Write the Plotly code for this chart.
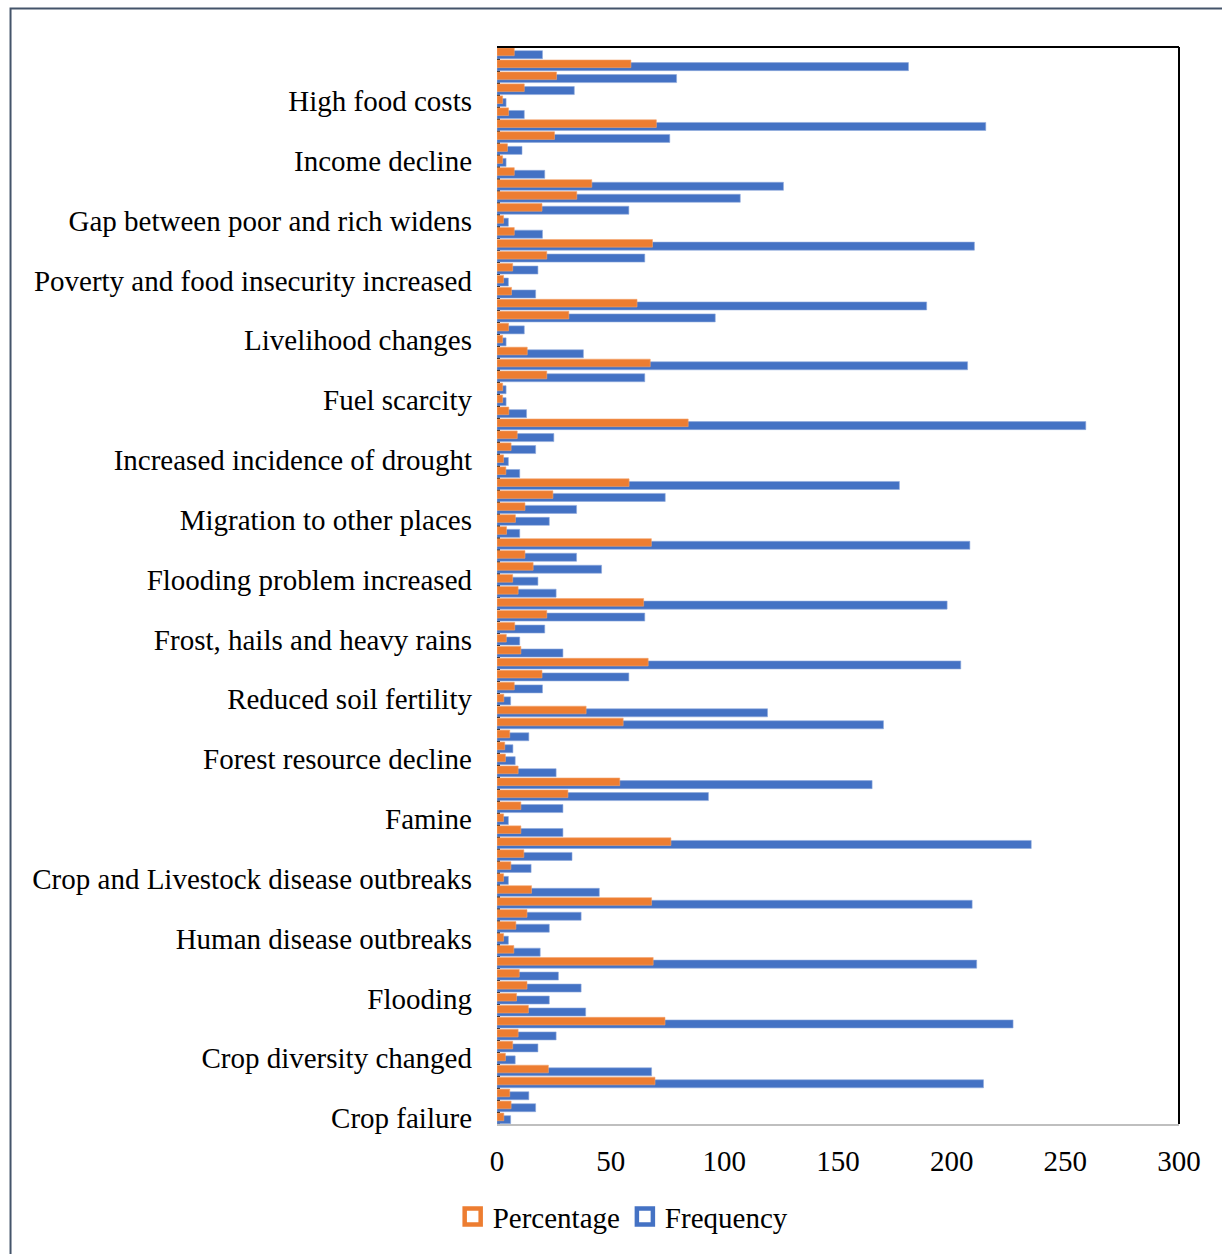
import plotly.graph_objects as go

# Category labels, top to bottom; each label sits on the lowest of its 5 rows
categories = [
    "High food costs", "Income decline", "Gap between poor and rich widens",
    "Poverty and food insecurity increased", "Livelihood changes", "Fuel scarcity",
    "Increased incidence of drought", "Migration to other places",
    "Flooding problem increased", "Frost, hails and heavy rains",
    "Reduced soil fertility", "Forest resource decline", "Famine",
    "Crop and Livestock disease outbreaks", "Human disease outbreaks",
    "Flooding", "Crop diversity changed", "Crop failure",
]

# Rows listed top to bottom (5 rows per category)
frequency = [
    20, 181, 79, 34, 4,
    12, 215, 76, 11, 4,
    21, 126, 107, 58, 5,
    20, 210, 65, 18, 5,
    17, 189, 96, 12, 4,
    38, 207, 65, 4, 4,
    13, 259, 25, 17, 5,
    10, 177, 74, 35, 23,
    10, 208, 35, 46, 18,
    26, 198, 65, 21, 10,
    29, 204, 58, 20, 6,
    119, 170, 14, 7, 8,
    26, 165, 93, 29, 5,
    29, 235, 33, 15, 5,
    45, 209, 37, 23, 5,
    19, 211, 27, 37, 23,
    39, 227, 26, 18, 8,
    68, 214, 14, 17, 6,
]

percentage = [
    7.6, 58.9, 26.2, 12.0, 2.5,
    5.1, 70.1, 25.3, 4.6, 2.5,
    7.6, 41.7, 35.1, 19.8, 2.9,
    7.6, 68.4, 21.9, 6.9, 2.9,
    6.4, 61.6, 31.6, 5.1, 2.5,
    13.3, 67.4, 21.9, 2.5, 2.5,
    5.2, 84.1, 8.9, 6.2, 2.9,
    3.9, 58.1, 24.6, 12.3, 8.1,
    4.2, 67.9, 12.3, 15.9, 6.9,
    9.3, 64.5, 21.9, 7.8, 4.1,
    10.5, 66.5, 19.8, 7.6, 3.0,
    39.2, 55.5, 5.6, 3.4, 3.7,
    9.3, 54.0, 31.2, 10.5, 2.9,
    10.5, 76.5, 11.8, 6.1, 2.9,
    15.2, 68.0, 13.2, 8.3, 2.9,
    7.4, 68.7, 9.8, 13.2, 8.6,
    13.8, 73.9, 9.3, 6.9, 3.7,
    22.6, 69.5, 5.6, 6.2, 3.0,
]

x_ticks = [0, 50, 100, 150, 200, 250, 300]

n = len(frequency)
ypos = [n - 1 - i for i in range(n)]
label_pos = [n - 1 - (5 * k + 4) for k in range(len(categories))]

BLUE = "#4472C4"
ORANGE = "#ED7D31"
FONT = "Liberation Serif"

fig = go.Figure()
fig.add_trace(go.Bar(
    x=frequency, y=ypos, orientation="h", name="Frequency",
    marker=dict(color=BLUE, line=dict(color="#8fa9dc", width=0.6)),
    width=0.67, offset=-0.475, showlegend=False,
))
fig.add_trace(go.Bar(
    x=percentage, y=ypos, orientation="h", name="Percentage",
    marker=dict(color=ORANGE, line=dict(color="#f3a46e", width=0.6)),
    width=0.64, offset=-0.225, showlegend=False,
))
# legend keys
fig.add_trace(go.Scatter(
    x=[None], y=[None], mode="markers", name="Percentage",
    marker=dict(symbol="square-open", size=17, color=ORANGE,
                line=dict(width=4.5, color=ORANGE)),
))
fig.add_trace(go.Scatter(
    x=[None], y=[None], mode="markers", name="Frequency",
    marker=dict(symbol="square-open", size=17, color=BLUE,
                line=dict(width=4.5, color=BLUE)),
))

fig.update_layout(
    width=1222, height=1254,
    margin=dict(l=497, r=43, t=47, b=128),
    paper_bgcolor="white", plot_bgcolor="white",
    font=dict(family=FONT, size=29, color="black"),
    barmode="overlay",
    showlegend=True,
    legend=dict(orientation="h", x=0.185, xanchor="center", y=-0.086,
                yanchor="middle", font=dict(family=FONT, size=29, color="black"),
                itemwidth=30, bgcolor="rgba(0,0,0,0)"),
    xaxis=dict(range=[0, 300], tickmode="array", tickvals=x_ticks,
               ticktext=[str(v) for v in x_ticks],
               showgrid=False, zeroline=False, showline=True,
               linecolor="#bfbfbf", linewidth=2, ticks="",
               ticklabelstandoff=10, fixedrange=True),
    yaxis=dict(range=[-0.5, n - 0.5], tickmode="array", tickvals=label_pos,
               ticktext=categories, ticks="", showgrid=False, zeroline=False,
               showline=False, layer="below traces", ticklabelstandoff=24,
               minor=dict(tickmode="array",
                          tickvals=[i - 0.5 for i in range(n + 1)],
                          ticks="inside", ticklen=2.5, tickwidth=1.5,
                          tickcolor="black", showgrid=False)),
    shapes=[
        dict(type="line", xref="paper", yref="paper", x0=0, x1=1, y0=1, y1=1,
             line=dict(color="black", width=2)),
        dict(type="line", xref="paper", yref="paper", x0=1, x1=1, y0=0, y1=1,
             line=dict(color="black", width=2)),
        dict(type="rect", xref="paper", yref="paper",
             x0=-0.7133, x1=1.2, y0=-0.3, y1=1.0357,
             line=dict(color="#44546a", width=2), fillcolor="rgba(0,0,0,0)",
             layer="below"),
    ],
)

fig.write_html("out.html")
